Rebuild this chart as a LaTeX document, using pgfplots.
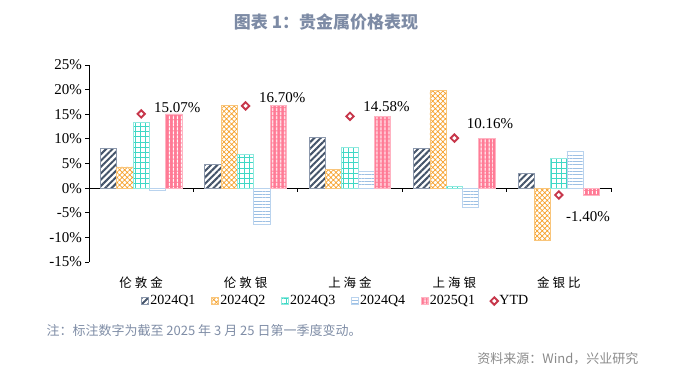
\documentclass[border=0pt]{standalone}
\usepackage{pgfplots}
\usepackage{pgfplotstable}
\pgfplotsset{compat=1.18}
\usetikzlibrary{patterns.meta}
\usepackage{fontspec}
\setmainfont{Liberation Serif}
\newfontfamily\cjk{Noto Sans CJK SC}
\definecolor{cQ1}{HTML}{44546A}
\definecolor{cQ1b}{HTML}{8C98AC}
\definecolor{cQ2}{HTML}{F5A02A}
\definecolor{cQ2b}{HTML}{F9C57A}
\definecolor{cQ3}{HTML}{3ED8C5}
\definecolor{cQ3b}{HTML}{8FE9DE}
\definecolor{cQ4}{HTML}{9DC0E4}
\definecolor{cQ4b}{HTML}{B9D3EE}
\definecolor{cQ5}{HTML}{FF7A95}
\definecolor{cQ5b}{HTML}{FFB3C2}
\definecolor{cYTD}{HTML}{C7374B}
\definecolor{ctitle}{HTML}{7D8BA5}
\definecolor{cnote}{HTML}{7F8DA6}
\definecolor{csrc}{HTML}{8A8A8A}
\pgfplotstableread{
x q1 q2 q3 q4 q5 ytd
0 8.0 4.3 13.3 -0.4 15.07 15.07
1 4.8 16.8 6.8 -7.3 16.70 16.70
2 10.2 3.8 8.2 3.4 14.58 14.58
3 8.0 19.8 0.4 -3.9 10.16 10.16
4 3.0 -10.6 6.0 7.5 -1.40 -1.40
}\datatable
\pgfplotsset{sqlegend/.style={legend image code/.code={\draw[##1] (0pt,-3.5pt) rectangle (7pt,3.5pt);}}}
\begin{document}
\begin{tikzpicture}
\path[use as bounding box] (0,0) rectangle (675pt,376pt);
\node[font=\cjk\bfseries\fontsize{17}{19}\selectfont, text=ctitle] at (326pt,354pt) {图表 1：贵金属价格表现};
\node[anchor=west, font=\cjk\fontsize{13}{15}\selectfont, text=cnote] at (43pt,45pt) {注：标注数字为截至 2025 年 3 月 25 日第一季度变动。};
\node[anchor=east, font=\cjk\fontsize{13}{15}\selectfont, text=csrc] at (642pt,17pt) {资料来源：Wind，兴业研究};
\begin{axis}[
  at={(89pt,114pt)}, anchor=south west,
  scale only axis, width=522pt, height=197pt,
  xmin=-0.5, xmax=4.5, ymin=-15, ymax=25,
  clip=false,
  axis y line=left, axis x line=middle,
  axis line style={-, black, line width=0.8pt},
  xtick={-0.5,0.5,...,4.5}, xticklabels={},
  ytick={-15,-10,...,25},
  yticklabel={\pgfmathprintnumber{\tick}\%},
  /pgf/number format/assume math mode=true,
  yticklabel style={font=\fontsize{15}{17}\selectfont},
  tick align=outside,
  major tick length=3.5pt,
  tick style={black, line width=0.8pt},
  legend columns=6,
  legend style={at={(0.472,-0.198)}, anchor=center, draw=none, fill=none,
    font=\fontsize{14}{16}\selectfont,
    /tikz/every even column/.append style={column sep=14pt},
    nodes={inner sep=1.5pt}},
]
\addplot[ybar, bar width=16.3pt, bar shift=-32.6pt, draw=cQ1b, line width=0.8pt,
  pattern={Lines[angle=45,distance=4.5pt,line width=2pt]}, pattern color=cQ1, sqlegend]
  table[x=x,y=q1]{\datatable};
\addplot[ybar, bar width=16.3pt, bar shift=-16.3pt, draw=cQ2b, line width=0.8pt,
  pattern={Hatch[angle=45,distance=3.6pt,line width=0.7pt]}, pattern color=cQ2, sqlegend]
  table[x=x,y=q2]{\datatable};
\addplot[ybar, bar width=16.3pt, bar shift=0pt, draw=cQ3b, line width=0.8pt,
  pattern={Hatch[angle=0,distance=5.2pt,line width=0.9pt]}, pattern color=cQ3, sqlegend]
  table[x=x,y=q3]{\datatable};
\addplot[ybar, bar width=16.3pt, bar shift=16.3pt, draw=cQ4b, line width=0.8pt,
  pattern={Lines[angle=0,distance=3.3pt,line width=0.8pt]}, pattern color=cQ4, sqlegend]
  table[x=x,y=q4]{\datatable};
\addplot[ybar, bar width=16.3pt, bar shift=32.6pt, draw=cQ5b, line width=0.8pt,
  fill=cQ5, postaction={pattern={Lines[angle=90,distance=4pt,line width=1.3pt]}, pattern color=white}, sqlegend]
  table[x=x,y=q5]{\datatable};
\addplot[only marks, mark=square*, mark size=2.6pt,
  mark options={rotate=45, draw=cYTD, fill=white, line width=1.9pt}]
  table[x=x,y=ytd]{\datatable};
\legend{2024Q1,2024Q2,2024Q3,2024Q4,2025Q1,YTD}
\addplot[draw=none, forget plot, nodes near coords, point meta=explicit symbolic,
  every node near coord/.append style={anchor=center, font=\fontsize{15}{17}\selectfont, inner sep=0pt}]
  coordinates {(0.345,16.3)[15.07\%] (1.35,18.3)[16.70\%] (2.35,16.5)[14.58\%] (3.34,13.1)[10.16\%] (4.28,-5.7)[-1.40\%]};
\node[font=\cjk\fontsize{12.5}{14}\selectfont] at (axis cs:0,-15) [yshift=-21pt] {伦\hspace{3pt}敦\hspace{3pt}金};
\node[font=\cjk\fontsize{12.5}{14}\selectfont] at (axis cs:1,-15) [yshift=-21pt] {伦\hspace{3pt}敦\hspace{3pt}银};
\node[font=\cjk\fontsize{12.5}{14}\selectfont] at (axis cs:2,-15) [yshift=-21pt] {上\hspace{3pt}海\hspace{3pt}金};
\node[font=\cjk\fontsize{12.5}{14}\selectfont] at (axis cs:3,-15) [yshift=-21pt] {上\hspace{3pt}海\hspace{3pt}银};
\node[font=\cjk\fontsize{12.5}{14}\selectfont] at (axis cs:4,-15) [yshift=-21pt] {金\hspace{3pt}银\hspace{3pt}比};
\end{axis}
\end{tikzpicture}
\end{document}
